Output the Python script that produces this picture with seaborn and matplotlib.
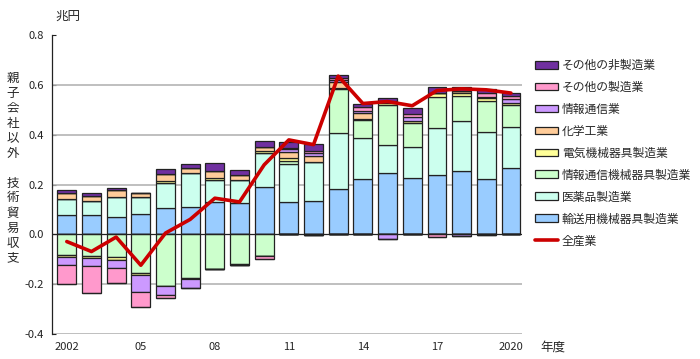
import numpy as np
import pandas as pd
import matplotlib
matplotlib.use("Agg")
import matplotlib.pyplot as plt
import seaborn as sns
from matplotlib.patches import Patch
from matplotlib.lines import Line2D

years = list(range(2002, 2021))
tick_labels = ["2002", "", "", "05", "", "", "08", "", "", "11", "", "", "14", "", "", "17", "", "", "2020"]

categories = ["輸送用機械器具製造業", "医薬品製造業", "情報通信機械器具製造業", "電気機械器具製造業",
              "化学工業", "情報通信業", "その他の製造業", "その他の非製造業"]

transport = [0.079, 0.076, 0.071, 0.083, 0.104, 0.111, 0.129, 0.127, 0.189, 0.128, 0.135, 0.183, 0.223, 0.247, 0.227, 0.240, 0.256, 0.224, 0.267]
pharma = [0.064, 0.059, 0.079, 0.067, 0.103, 0.136, 0.091, 0.093, 0.139, 0.155, 0.157, 0.224, 0.164, 0.111, 0.125, 0.187, 0.197, 0.187, 0.164]
ict_machinery = [-0.083, -0.087, -0.091, -0.157, -0.207, -0.177, -0.140, -0.120, -0.085, 0.012, 0.0, 0.176, 0.072, 0.160, 0.095, 0.123, 0.103, 0.123, 0.089]
electrical = [-0.008, -0.009, -0.011, -0.008, 0.009, -0.003, 0.007, -0.005, 0.007, 0.010, -0.004, 0.005, 0.004, 0.009, 0.009, 0.017, 0.010, 0.013, 0.007]
chemical = [0.023, 0.020, 0.028, 0.016, 0.027, 0.020, 0.027, 0.017, 0.015, 0.025, 0.024, 0.025, 0.023, 0.009, 0.0, 0.0, 0.010, 0.005, 0.0]
ict_services = [-0.033, -0.032, -0.035, -0.067, -0.037, -0.035, 0.0, 0.0, 0.0, 0.012, 0.009, 0.005, 0.010, -0.019, 0.016, 0.0, -0.008, -0.003, 0.016]
other_mfg = [-0.077, -0.107, -0.060, -0.059, -0.013, 0.0, 0.0, 0.0, -0.016, 0.006, 0.009, 0.008, 0.017, 0.0, 0.010, -0.011, 0.0, 0.016, 0.011]
other_nonmfg = [0.012, 0.011, 0.009, 0.0, 0.021, 0.017, 0.031, 0.020, 0.024, 0.022, 0.028, 0.014, 0.009, 0.010, 0.027, 0.023, 0.016, 0.017, 0.013]
all_industries = [-0.029, -0.069, -0.011, -0.124, 0.005, 0.060, 0.145, 0.130, 0.279, 0.379, 0.360, 0.635, 0.525, 0.533, 0.516, 0.577, 0.584, 0.580, 0.567]

series = [transport, pharma, ict_machinery, electrical, chemical, ict_services, other_mfg, other_nonmfg]
colors = ["#99CCFF", "#CCFFEE", "#CCFFCC", "#FFFF99", "#FFCC99", "#CC99FF", "#FF99CC", "#7030A0"]

sns.set_theme(style="white")
plt.rcParams['font.family'] = ['Noto Sans CJK JP', 'DejaVu Sans']

fig = plt.figure(figsize=(7.0, 3.59), dpi=100)
ax = fig.add_axes([52/700, 25/359, 470/700, 299/359])

x = np.arange(len(years))
pos_base = np.zeros(len(years))
neg_base = np.zeros(len(years))
for vals, col in zip(series, colors):
    v = np.array(vals)
    pos = np.where(v > 0, v, 0)
    neg = np.where(v < 0, v, 0)
    ax.bar(x, pos, bottom=pos_base, width=0.76, color=col, edgecolor="#222222", linewidth=0.9, zorder=3)
    ax.bar(x, neg, bottom=neg_base, width=0.76, color=col, edgecolor="#222222", linewidth=0.9, zorder=3)
    pos_base += pos
    neg_base += neg

df_line = pd.DataFrame({"x": x, "v": all_industries})
sns.lineplot(data=df_line, x="x", y="v", ax=ax, color="#CC0000", linewidth=2.6, zorder=5, legend=False)

ax.set_xlim(-0.6, 18.45)
ax.set_ylim(-0.4, 0.8)
ax.set_yticks(np.arange(-0.4, 0.81, 0.2))
ax.set_yticklabels(["-0.4", "-0.2", "0.0", "0.2", "0.4", "0.6", "0.8"], fontsize=8)
for yv in [-0.4, -0.2, 0.2, 0.4, 0.6]:
    ax.axhline(yv, color="#B4B4B4", linewidth=1.2, zorder=1)
ax.axhline(0, color="#222222", linewidth=0.9, zorder=4)
ax.set_xticks(x)
ax.set_xticklabels(tick_labels, fontsize=8)
ax.tick_params(axis="x", length=0, pad=6)
ax.tick_params(axis="y", direction="in", length=3, width=0.8, pad=6, left=True, colors="#222222")
ax.set_xlabel("")
ax.set_ylabel("")
for s in ["top", "right", "bottom"]:
    ax.spines[s].set_visible(False)
ax.spines["left"].set_color("#222222")
ax.spines["left"].set_linewidth(0.9)

fig.text(55/700, 1 - 16/359, "兆円", fontsize=9, ha="left", va="center")
fig.text(540/700, 1 - 347/359, "年度", fontsize=9, ha="left", va="center")
fig.text(13/700, 1 - 168/359, "親\n子\n会\n社\n以\n外\n\n技\n術\n貿\n易\n収\n支",
         fontsize=9, ha="center", va="center", linespacing=1.2)

legend_labels = ["その他の非製造業", "その他の製造業", "情報通信業", "化学工業", "電気機械器具製造業",
                 "情報通信機械器具製造業", "医薬品製造業", "輸送用機械器具製造業", "全産業"]
handles = [Patch(facecolor=c, edgecolor="#222222", linewidth=0.9) for c in colors[::-1]]
handles.append(Line2D([0], [0], color="#CC0000", linewidth=2.6))
fig.legend(handles, legend_labels, loc="upper left", bbox_to_anchor=(530/700, 1 - 54/359),
           frameon=False, fontsize=8.5, handlelength=2.0, handleheight=0.65,
           handletextpad=0.3, labelspacing=0.76, borderaxespad=0)

fig.savefig("out.png", dpi=100)
